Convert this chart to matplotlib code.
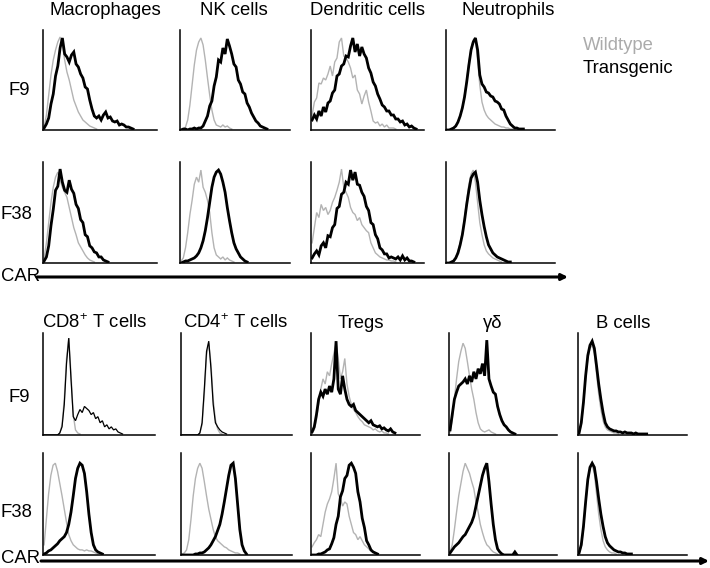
import matplotlib.pyplot as plt
import numpy as np

plt.rcParams["font.family"] = ["Liberation Sans", "DejaVu Sans"]
plt.rcParams["mathtext.fontset"] = "custom"
plt.rcParams["mathtext.rm"] = "Liberation Sans"
plt.rcParams["mathtext.it"] = "Liberation Sans:italic"

top_cells = ["Macrophages", "NK cells", "Dendritic cells", "Neutrophils"]
bottom_cells = ["CD8$^{+}$ T cells", "CD4$^{+}$ T cells", "Tregs", "γδ", "B cells"]
lines = ["F9", "F38"]
BIN = 2  # each value covers 2 % of the CAR axis

# histogram heights (% of panel height), one value per bin from the left
# wt = wildtype (grey), tg = transgenic (black)
mac_f9_wt = [3, 15, 35, 55, 70, 80, 88, 93, 85, 70, 58, 50, 40, 30, 24, 18, 14, 10, 8, 6, 4, 3, 2, 1]
mac_f9_tg = [2, 6, 12, 26, 36, 54, 64, 82, 92, 76, 73, 68, 75, 78, 66, 63, 56, 52, 43, 41, 30, 21, 14, 12,
             14, 10, 15, 18, 12, 13, 9, 8, 9, 5, 6, 5, 3, 3, 2, 1]
nk_f9_wt = [1, 1, 3, 10, 25, 45, 65, 80, 88, 92, 85, 70, 52, 35, 20, 10, 5, 4, 3, 5, 3, 4, 2, 1]
nk_f9_tg = [0, 1, 1, 0, 1, 1, 2, 1, 2, 2, 4, 9, 14, 24, 29, 44, 53, 70, 68, 82, 76, 91, 84, 76, 66, 63,
            50, 46, 38, 36, 27, 23, 17, 13, 9, 7, 4, 3, 2, 1]
dc_f9_wt = [15, 28, 32, 47, 46, 52, 50, 56, 64, 54, 68, 72, 88, 92, 74, 72, 68, 62, 52, 55, 40, 36, 26,
            34, 40, 28, 19, 9, 7, 8, 4, 6, 3, 5, 2, 2, 2, 1]
dc_f9_tg = [10, 15, 11, 19, 14, 23, 18, 27, 29, 37, 40, 54, 56, 64, 66, 74, 73, 84, 92, 78, 86, 74, 83,
            76, 72, 62, 57, 48, 44, 36, 31, 25, 23, 19, 19, 15, 15, 11, 11, 8, 9, 5, 6, 3, 4, 2, 1]
neut_f9_wt = [0, 0, 1, 2, 4, 8, 14, 22, 35, 50, 68, 82, 90, 92, 70, 45, 28, 20, 15, 12, 10, 8, 6, 5, 4,
              3, 3, 2, 2, 1, 1]
neut_f9_tg = [0, 0, 1, 2, 4, 8, 14, 22, 33, 48, 65, 80, 88, 92, 80, 55, 46, 43, 38, 37, 34, 33, 29, 28,
              26, 21, 20, 14, 10, 6, 4, 2, 2, 1, 1, 1]

mac_f38_wt = [5, 20, 40, 60, 75, 85, 90, 82, 75, 70, 65, 55, 45, 35, 28, 20, 16, 12, 8, 5, 3, 2, 1]
mac_f38_tg = [2, 6, 17, 37, 53, 72, 76, 93, 80, 72, 70, 82, 73, 69, 58, 54, 43, 40, 28, 26, 17, 15, 11,
              10, 6, 6, 3, 2, 1]
nk_f38_wt = [2, 5, 15, 30, 48, 62, 78, 85, 80, 92, 75, 70, 62, 50, 30, 15, 8, 6, 4, 6, 3, 5, 3, 2, 1]
nk_f38_tg = [0, 1, 2, 2, 3, 4, 5, 7, 10, 15, 22, 32, 45, 60, 75, 85, 90, 92, 88, 80, 70, 55, 42, 30, 20,
             14, 10, 6, 4, 2, 1]
dc_f38_wt = [20, 35, 50, 45, 58, 52, 55, 48, 52, 60, 65, 72, 80, 93, 75, 70, 65, 55, 50, 48, 42, 45, 38,
             35, 32, 30, 20, 15, 10, 8, 6, 5, 4, 3, 3, 2, 2, 1]
dc_f38_tg = [5, 9, 12, 8, 17, 20, 15, 27, 26, 35, 38, 54, 56, 68, 70, 80, 78, 92, 82, 90, 78, 77, 70,
             66, 56, 52, 40, 38, 28, 24, 15, 13, 9, 9, 5, 6, 5, 4, 6, 3, 7, 3, 5, 2, 2, 1]
neut_f38_wt = [0, 0, 1, 3, 6, 12, 20, 30, 45, 62, 78, 88, 92, 80, 60, 40, 28, 18, 12, 9, 7, 5, 4, 3, 2, 1]
neut_f38_tg = [0, 0, 1, 2, 5, 10, 18, 28, 42, 58, 72, 84, 88, 90, 80, 62, 48, 36, 26, 18, 14, 10, 8, 6,
               5, 4, 3, 2, 1, 1]

cd8_f9_wt = [0, 0, 0, 0, 0, 0, 0, 2, 10, 35, 75, 95, 60, 20, 5, 2, 1]
cd8_f9_tg = [0, 0, 0, 0, 0, 0, 0, 2, 8, 30, 70, 95, 55, 18, 14, 20, 25, 22, 28, 26, 24, 20, 22, 16, 18,
             12, 14, 8, 10, 6, 8, 5, 6, 3, 2, 1]
cd4_f9_wt = [0, 0, 0, 0, 0, 0, 0, 0, 2, 10, 40, 78, 90, 70, 35, 15, 6, 2, 1]
cd4_f9_tg = [0, 0, 0, 0, 0, 0, 0, 0, 2, 12, 45, 82, 92, 65, 30, 12, 8, 5, 3, 2, 1]
tregs_f9_wt = [2, 5, 15, 30, 45, 55, 50, 62, 58, 70, 80, 90, 75, 55, 62, 75, 50, 38, 30, 25, 22, 18, 15,
               13, 10, 9, 8, 7, 5, 6, 4, 3, 4, 2, 2, 1]
tregs_f9_tg = [3, 8, 20, 35, 42, 38, 45, 40, 48, 42, 55, 92, 45, 40, 58, 45, 35, 30, 28, 30, 24, 22, 20,
               18, 16, 14, 12, 14, 10, 9, 8, 9, 6, 7, 5, 4, 6, 3, 2]
gd_f9_wt = [3, 15, 35, 55, 72, 82, 90, 85, 72, 58, 45, 35, 22, 12, 6, 4, 3, 4, 5, 3, 2, 1]
gd_f9_tg = [5, 20, 35, 42, 48, 50, 52, 55, 50, 58, 52, 62, 55, 65, 60, 70, 58, 93, 55, 48, 42, 40, 28,
            20, 14, 10, 8, 5, 3, 2, 1]
b_f9_wt = [2, 10, 30, 55, 75, 85, 88, 80, 60, 40, 25, 14, 8, 5, 4, 3, 2, 2, 1]
b_f9_tg = [2, 12, 32, 58, 78, 88, 92, 85, 68, 50, 35, 22, 12, 8, 6, 5, 4, 4, 3, 3, 2, 3, 2, 2, 2, 1, 2,
           1, 1, 1, 1, 1]

cd8_f38_wt = [10, 35, 60, 78, 88, 90, 82, 70, 58, 45, 32, 20, 14, 10, 8, 6, 5, 5, 4, 5, 4, 4, 3, 2, 1]
cd8_f38_tg = [1, 2, 4, 5, 7, 9, 11, 14, 16, 18, 22, 30, 42, 58, 75, 85, 90, 88, 80, 62, 40, 22, 10, 5,
              3, 2, 1]
cd4_f38_wt = [1, 2, 5, 15, 35, 58, 75, 85, 90, 85, 72, 58, 45, 35, 25, 18, 14, 12, 10, 8, 7, 5, 4, 3,
              2, 2, 1]
cd4_f38_tg = [0, 0, 0, 0, 0, 0, 1, 1, 2, 2, 3, 5, 7, 10, 14, 18, 24, 30, 40, 52, 65, 78, 88, 90, 75, 50,
              25, 10, 4, 1]
tregs_f38_wt = [8, 12, 15, 20, 18, 30, 42, 50, 55, 62, 75, 90, 60, 55, 48, 52, 50, 38, 30, 22, 20, 15,
                18, 14, 10, 8, 6, 4, 3, 2, 1]
tregs_f38_tg = [0, 0, 0, 1, 1, 2, 3, 5, 6, 11, 17, 30, 38, 57, 63, 75, 78, 88, 90, 86, 80, 62, 52, 36,
                27, 14, 10, 5, 3, 2, 1]
gd_f38_wt = [3, 10, 25, 42, 58, 70, 82, 90, 85, 80, 72, 65, 52, 42, 30, 22, 15, 10, 8, 5, 3, 2, 1]
gd_f38_tg = [2, 5, 8, 10, 12, 15, 18, 20, 24, 28, 32, 38, 48, 58, 68, 78, 85, 90, 72, 50, 30, 15, 6, 3,
             1, 0, 0, 0, 0, 0, 3, 0]
b_f38_wt = [2, 8, 25, 50, 72, 85, 88, 80, 60, 40, 25, 14, 8, 5, 3, 2, 2, 1]
b_f38_tg = [2, 10, 28, 52, 74, 86, 90, 86, 72, 55, 40, 28, 18, 12, 9, 7, 5, 4, 3, 3, 2, 2, 1, 1, 1]

top_wt = [[mac_f9_wt, nk_f9_wt, dc_f9_wt, neut_f9_wt],
          [mac_f38_wt, nk_f38_wt, dc_f38_wt, neut_f38_wt]]
top_tg = [[mac_f9_tg, nk_f9_tg, dc_f9_tg, neut_f9_tg],
          [mac_f38_tg, nk_f38_tg, dc_f38_tg, neut_f38_tg]]
bot_wt = [[cd8_f9_wt, cd4_f9_wt, tregs_f9_wt, gd_f9_wt, b_f9_wt],
          [cd8_f38_wt, cd4_f38_wt, tregs_f38_wt, gd_f38_wt, b_f38_wt]]
bot_tg = [[cd8_f9_tg, cd4_f9_tg, tregs_f9_tg, gd_f9_tg, b_f9_tg],
          [cd8_f38_tg, cd4_f38_tg, tregs_f38_tg, gd_f38_tg, b_f38_tg]]

W, H = 710, 568
GREY = "#b3b3b3"

fig = plt.figure(figsize=(W / 100, H / 100), dpi=100)

# full-figure layer in pixel coordinates for labels and arrows
bg = fig.add_axes([0, 0, 1, 1], zorder=-1)
bg.set_xlim(0, W)
bg.set_ylim(H, 0)
bg.axis("off")


def trace(ax, vals, **kw):
    x = np.arange(len(vals)) * BIN + BIN / 2
    ax.plot(x, vals, solid_joinstyle="miter", **kw)


def panel(x0, x1, ytop, ybot, wt, tg, tg_lw=2.0):
    ax = fig.add_axes([x0 / W, 1 - ybot / H, (x1 - x0) / W, (ybot - ytop) / H])
    trace(ax, wt, color=GREY, lw=1.0)
    trace(ax, tg, color="black", lw=tg_lw)
    ax.set_xlim(0, 100)
    ax.set_ylim(0, 100)
    ax.set_xticks([])
    ax.set_yticks([])
    for side in ("top", "right"):
        ax.spines[side].set_visible(False)
    for side in ("left", "bottom"):
        ax.spines[side].set_linewidth(1.1)
    ax.patch.set_alpha(0)
    return ax


top_cols = [(43, 157), (180, 290), (311, 424), (446, 555)]
top_rows = [(30, 130), (162, 263)]
bot_cols = [(43, 155), (181, 292), (311, 420), (449, 557), (578, 687)]
bot_rows = [(333, 435), (453, 555)]

for r, (yt, yb) in enumerate(top_rows):
    for c, (x0, x1) in enumerate(top_cols):
        panel(x0, x1, yt, yb, top_wt[r][c], top_tg[r][c])

for r, (yt, yb) in enumerate(bot_rows):
    for c, (x0, x1) in enumerate(bot_cols):
        thin = r == 0 and c < 2
        panel(x0, x1, yt, yb, bot_wt[r][c], bot_tg[r][c], tg_lw=0.9 if thin else 2.0)

fs = 13.3
for name, xc in zip(top_cells, [105, 234, 368, 508]):
    bg.text(xc, 15, name, ha="center", va="baseline", fontsize=fs)
for name, xc in zip(bottom_cells, [95, 236, 361, 493, 623]):
    bg.text(xc, 328, name, ha="center", va="baseline", fontsize=fs)

for name, (x, y) in zip(lines + lines, [(8, 95), (1, 219), (8, 402), (1, 517)]):
    bg.text(x, y, name, ha="left", va="baseline", fontsize=fs)

bg.text(1, 281, "CAR", ha="left", va="baseline", fontsize=fs)
bg.text(1, 563, "CAR", ha="left", va="baseline", fontsize=fs)
arrow = dict(arrowstyle="-|>", lw=2.2, color="black", mutation_scale=9, shrinkA=0, shrinkB=0)
bg.annotate("", xy=(568, 277), xytext=(37, 277), arrowprops=arrow)
bg.annotate("", xy=(709, 561), xytext=(41, 561), arrowprops=arrow)

bg.text(583, 50, "Wildtype", ha="left", va="baseline", fontsize=fs, color="#ababab")
bg.text(583, 73, "Transgenic", ha="left", va="baseline", fontsize=fs, color="black")

fig.savefig("out.png", dpi=100)
